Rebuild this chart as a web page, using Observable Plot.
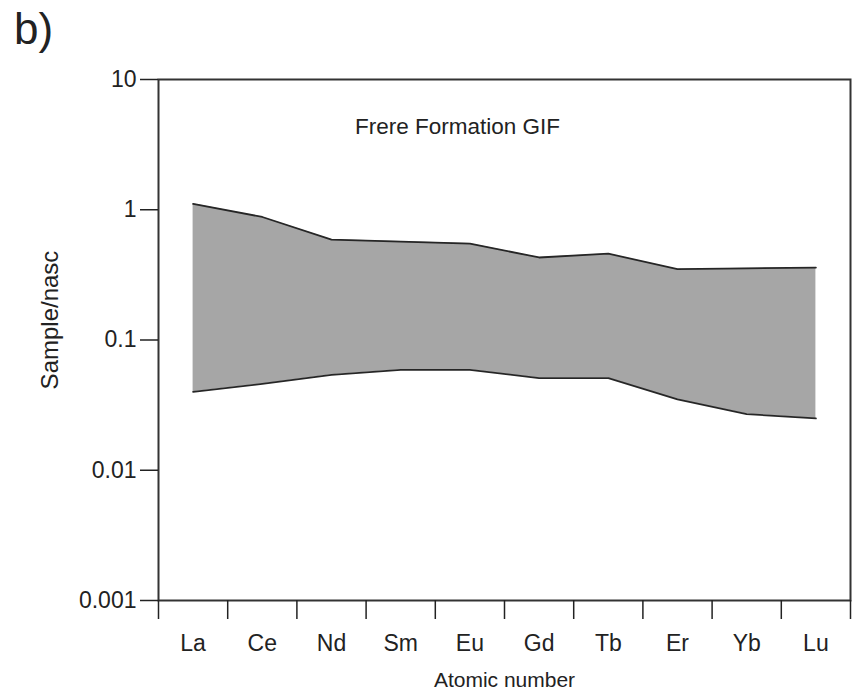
<!DOCTYPE html>
<html>
<head>
<meta charset="utf-8">
<script src="https://cdn.jsdelivr.net/npm/d3@7"></script>
<script src="https://cdn.jsdelivr.net/npm/@observablehq/plot@0.6"></script>
<style>
  html, body { margin: 0; padding: 0; background: #fff; }
  #wrap { position: relative; width: 853px; height: 694px; font-family: "Liberation Sans", Arial, sans-serif; }
  #panel { position: absolute; left: 14px; top: 4px; font-size: 44px; color: #222; }
  #wrap svg { position: absolute; left: 0; top: 0; }
</style>
</head>
<body>
<div id="wrap"><div id="panel">b)</div></div>
<script>
const elements = ["La", "Ce", "Nd", "Sm", "Eu", "Gd", "Tb", "Er", "Yb", "Lu"];
const upper = [1.11, 0.88, 0.59, 0.57, 0.55, 0.43, 0.46, 0.35, 0.355, 0.36];
const lower = [0.040, 0.046, 0.054, 0.059, 0.059, 0.051, 0.051, 0.035, 0.027, 0.025];
const yTicks = [0.001, 0.01, 0.1, 1, 10];
const yTickLabels = ["0.001", "0.01", "0.1", "1", "10"];
const title = "Frere Formation GIF";
const xLabel = "Atomic number";
const yLabel = "Sample/nasc";

const data = elements.map((name, i) => ({name, pos: i + 0.5, upper: upper[i], lower: lower[i]}));
const boundaries = d3.range(0, elements.length + 1);
const centers = elements.map((_, i) => i + 0.5);

const plot = Plot.plot({
  width: 853,
  height: 694,
  marginLeft: 158,
  marginRight: 3,
  marginTop: 79,
  marginBottom: 94,
  style: {fontFamily: "'Liberation Sans', Arial, sans-serif", color: "#222", background: "transparent"},
  x: {domain: [0, elements.length]},
  y: {type: "log", domain: [0.001, 10]},
  marks: [
    Plot.areaY(data, {x: "pos", y1: "lower", y2: "upper", fill: "#a6a6a6"}),
    Plot.lineY(data, {x: "pos", y: "upper", stroke: "#262626", strokeWidth: 1.8}),
    Plot.lineY(data, {x: "pos", y: "lower", stroke: "#262626", strokeWidth: 1.8}),
    Plot.frame({stroke: "#333", strokeWidth: 2}),
    Plot.axisY(yTicks, {
      tickFormat: d => yTickLabels[yTicks.indexOf(d)],
      tickSize: 18, tickPadding: 4, fontSize: 23, strokeWidth: 1.5, label: null
    }),
    Plot.axisX(boundaries, {tickFormat: () => "", tickSize: 19, strokeWidth: 1.5, label: null}),
    Plot.axisX(centers, {
      tickFormat: d => elements[Math.floor(d)],
      tickSize: 0, tickPadding: 34, fontSize: 23, label: null
    }),
    Plot.text([xLabel], {frameAnchor: "bottom", lineAnchor: "middle", dy: 80, fontSize: 21, fill: "#222"}),
    Plot.text([yLabel], {frameAnchor: "left", textAnchor: "middle", lineAnchor: "middle", rotate: -90, dx: -108, dy: -20, fontSize: 24, fill: "#222"}),
    Plot.text([title], {frameAnchor: "top", lineAnchor: "middle", dx: -47, dy: 47, fontSize: 22.5, fill: "#222"})
  ]
});
document.getElementById("wrap").appendChild(plot);
</script>
</body>
</html>
